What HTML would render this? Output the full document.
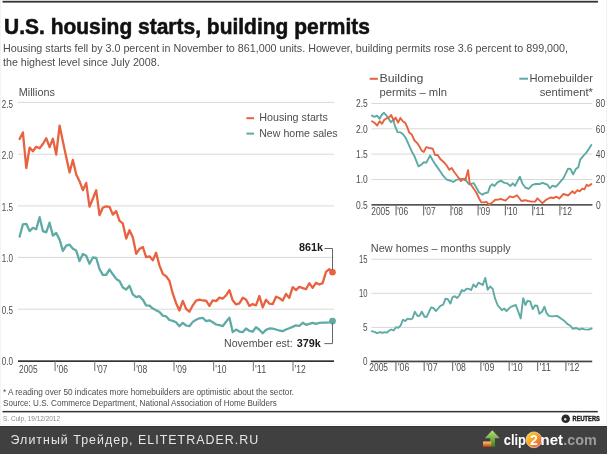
<!DOCTYPE html><html><head><meta charset="utf-8"><style>html,body{margin:0;padding:0;background:#fff;}svg{display:block;will-change:transform;}text{font-family:"Liberation Sans",sans-serif;}</style></head><body>
<svg width="607" height="454" viewBox="0 0 607 454">
<rect x="0" y="0" width="607" height="454" fill="#fff"/>
<rect x="0" y="0" width="1" height="425" fill="#f3f3f3"/>
<rect x="606" y="0" width="1" height="425" fill="#f2f2f2"/>
<rect x="2.5" y="0.8" width="595.5" height="1.8" fill="#333"/>
<text x="4" y="33.6" font-size="22.4" fill="#111" stroke="#111" stroke-width="0.55" font-weight="bold" textLength="366" lengthAdjust="spacingAndGlyphs">U.S. housing starts, building permits</text>
<text x="3.0" y="51.7" font-size="11.30" fill="#4d4d4d" font-weight="normal" text-anchor="start" textLength="565.0" lengthAdjust="spacingAndGlyphs">Housing starts fell by 3.0 percent in November to 861,000 units. However, building permits rose 3.6 percent to 899,000,</text>
<text x="3.0" y="66.1" font-size="11.30" fill="#4d4d4d" font-weight="normal" text-anchor="start" textLength="156.6" lengthAdjust="spacingAndGlyphs">the highest level since July 2008.</text>
<g>
<rect x="18" y="101.9" width="316" height="1" fill="#d9d9d9"/>
<rect x="18" y="153.7" width="316" height="1" fill="#d9d9d9"/>
<rect x="18" y="205.4" width="316" height="1" fill="#d9d9d9"/>
<rect x="18" y="256.9" width="316" height="1" fill="#d9d9d9"/>
<rect x="18" y="308.7" width="316" height="1" fill="#d9d9d9"/>
<text x="18.8" y="95.8" font-size="10.80" fill="#4d4d4d" font-weight="normal" text-anchor="start" textLength="36.0" lengthAdjust="spacingAndGlyphs">Millions</text>
<text x="1.8" y="108.2" font-size="10.60" fill="#4d4d4d" font-weight="normal" text-anchor="start" textLength="11.2" lengthAdjust="spacingAndGlyphs">2.5</text>
<text x="1.8" y="159.2" font-size="10.60" fill="#4d4d4d" font-weight="normal" text-anchor="start" textLength="11.2" lengthAdjust="spacingAndGlyphs">2.0</text>
<text x="1.8" y="211.2" font-size="10.60" fill="#4d4d4d" font-weight="normal" text-anchor="start" textLength="11.2" lengthAdjust="spacingAndGlyphs">1.5</text>
<text x="1.8" y="262.2" font-size="10.60" fill="#4d4d4d" font-weight="normal" text-anchor="start" textLength="11.2" lengthAdjust="spacingAndGlyphs">1.0</text>
<text x="1.8" y="314.2" font-size="10.60" fill="#4d4d4d" font-weight="normal" text-anchor="start" textLength="11.2" lengthAdjust="spacingAndGlyphs">0.5</text>
<text x="1.8" y="365.2" font-size="10.60" fill="#4d4d4d" font-weight="normal" text-anchor="start" textLength="11.2" lengthAdjust="spacingAndGlyphs">0.0</text>
<rect x="18" y="360.3" width="316" height="1.7" fill="#333"/>
<rect x="54.5" y="361.5" width="1.2" height="9.6" fill="#888"/>
<rect x="94.1" y="361.5" width="1.2" height="9.6" fill="#888"/>
<rect x="133.9" y="361.5" width="1.2" height="9.6" fill="#888"/>
<rect x="173.4" y="361.5" width="1.2" height="9.6" fill="#888"/>
<rect x="213.0" y="361.5" width="1.2" height="9.6" fill="#888"/>
<rect x="252.8" y="361.5" width="1.2" height="9.6" fill="#888"/>
<rect x="292.4" y="361.5" width="1.2" height="9.6" fill="#888"/>
<text x="19.0" y="372.7" font-size="10.00" fill="#4d4d4d" font-weight="normal" text-anchor="start" textLength="18.6" lengthAdjust="spacingAndGlyphs">2005</text>
<text x="56.8" y="372.6" font-size="10.20" fill="#4d4d4d" font-weight="normal" text-anchor="start" textLength="11.1" lengthAdjust="spacingAndGlyphs">'06</text>
<text x="96.4" y="372.6" font-size="10.20" fill="#4d4d4d" font-weight="normal" text-anchor="start" textLength="11.1" lengthAdjust="spacingAndGlyphs">'07</text>
<text x="136.2" y="372.6" font-size="10.20" fill="#4d4d4d" font-weight="normal" text-anchor="start" textLength="11.1" lengthAdjust="spacingAndGlyphs">'08</text>
<text x="175.7" y="372.6" font-size="10.20" fill="#4d4d4d" font-weight="normal" text-anchor="start" textLength="11.1" lengthAdjust="spacingAndGlyphs">'09</text>
<text x="215.3" y="372.6" font-size="10.20" fill="#4d4d4d" font-weight="normal" text-anchor="start" textLength="11.1" lengthAdjust="spacingAndGlyphs">'10</text>
<text x="255.1" y="372.6" font-size="10.20" fill="#4d4d4d" font-weight="normal" text-anchor="start" textLength="11.1" lengthAdjust="spacingAndGlyphs">'11</text>
<text x="294.7" y="372.6" font-size="10.20" fill="#4d4d4d" font-weight="normal" text-anchor="start" textLength="11.1" lengthAdjust="spacingAndGlyphs">'12</text>
<polyline points="19.6,139.0 22.9,132.4 26.3,168.0 29.6,147.6 32.9,151.3 36.2,146.8 39.6,148.3 42.9,144.0 46.2,138.2 49.6,147.2 52.9,138.7 56.2,154.5 59.6,125.6 62.9,141.6 66.2,157.1 69.6,172.5 72.9,159.9 76.2,174.4 79.5,181.2 82.9,190.2 86.2,182.9 89.5,206.7 92.9,198.5 96.2,190.3 99.5,215.2 102.8,207.8 106.2,206.3 109.5,206.8 112.8,214.6 116.2,211.1 119.5,220.9 122.8,223.4 126.2,238.6 129.5,230.2 132.8,237.2 136.2,253.8 139.5,248.9 142.8,246.9 146.1,257.1 149.5,256.3 152.8,260.4 156.1,252.8 159.5,265.6 162.8,273.8 166.1,276.3 169.4,280.7 172.8,293.7 176.1,303.2 179.4,310.5 182.8,300.9 186.1,308.9 189.4,311.7 192.8,305.3 196.1,300.6 199.4,299.7 202.8,300.5 206.1,300.6 209.4,305.9 212.7,300.3 216.1,301.1 219.4,297.6 222.7,298.7 226.1,295.3 229.4,290.1 232.7,300.3 236.1,304.4 239.4,303.3 242.7,297.8 246.0,299.5 249.4,305.9 252.7,304.1 256.0,305.4 259.4,296.0 262.7,307.4 266.0,299.8 269.4,303.7 272.7,304.2 276.0,296.7 279.3,298.0 282.7,300.6 286.0,293.9 289.3,297.9 292.7,287.1 296.0,290.1 299.3,286.9 302.7,288.1 306.0,289.2 309.3,283.2 312.6,287.9 316.0,282.8 319.3,284.5 322.6,283.1 326.0,271.8 329.3,269.2 332.6,272.0" fill="none" stroke="#e8623f" stroke-width="2.3" stroke-linejoin="round" stroke-linecap="round"/>
<polyline points="19.6,236.7 22.9,224.4 26.3,223.8 29.6,231.1 32.9,227.8 36.2,229.3 39.6,217.2 42.9,231.1 46.2,232.4 49.6,222.7 52.9,235.7 56.2,233.0 59.6,239.6 62.9,250.9 66.2,245.6 69.6,244.7 72.9,248.7 76.2,250.5 79.5,261.1 82.9,254.0 86.2,255.8 89.5,263.7 92.9,257.5 96.2,258.0 99.5,269.0 102.8,274.9 106.2,274.9 109.5,269.4 112.8,274.3 116.2,278.9 119.5,280.9 122.8,287.5 126.2,289.5 129.5,285.8 132.8,294.4 136.2,297.1 139.5,296.2 142.8,299.7 146.1,305.4 149.5,305.7 152.8,308.6 156.1,310.3 159.5,312.0 162.8,315.6 166.1,316.3 169.4,320.0 172.8,320.9 176.1,322.2 179.4,326.2 182.8,322.9 186.1,325.5 189.4,326.2 192.8,321.9 196.1,319.8 199.4,318.3 202.8,317.8 206.1,321.2 209.4,320.3 212.7,322.2 216.1,324.5 219.4,325.2 222.7,326.2 226.1,321.7 229.4,317.6 232.7,332.1 236.1,329.6 239.4,331.6 242.7,332.2 246.0,328.5 249.4,330.9 252.7,331.7 256.0,327.2 259.4,329.7 262.7,333.2 266.0,329.9 269.4,328.5 272.7,328.7 276.0,329.5 279.3,330.5 282.7,331.2 286.0,329.5 289.3,328.2 292.7,326.9 296.0,325.3 299.3,326.0 302.7,322.8 306.0,324.8 309.3,323.8 312.6,322.8 316.0,323.8 319.3,322.8 322.6,322.6 326.0,322.6 329.3,322.3 332.6,321.3" fill="none" stroke="#5eaaa5" stroke-width="2.3" stroke-linejoin="round" stroke-linecap="round"/>
<rect x="246.4" y="117.2" width="7.6" height="2" fill="#e8623f"/>
<text x="259.2" y="120.5" font-size="11.80" fill="#4d4d4d" font-weight="normal" text-anchor="start" textLength="68.6" lengthAdjust="spacingAndGlyphs">Housing starts</text>
<rect x="246.4" y="132.6" width="7.6" height="2" fill="#5eaaa5"/>
<text x="259.2" y="137.3" font-size="11.80" fill="#4d4d4d" font-weight="normal" text-anchor="start" textLength="78.5" lengthAdjust="spacingAndGlyphs">New home sales</text>
<circle cx="332.5" cy="272.3" r="3.3" fill="#e8623f"/>
<polyline points="324.5,248.5 332.5,248.5 332.5,270" fill="none" stroke="#666" stroke-width="1"/>
<text x="298.9" y="251.1" font-size="11.20" fill="#1a1a1a" font-weight="bold" text-anchor="start" textLength="24.1" lengthAdjust="spacingAndGlyphs">861k</text>
<circle cx="332.5" cy="321.1" r="3.4" fill="#5eaaa5"/>
<polyline points="324.3,343.6 332.5,343.6 332.5,323" fill="none" stroke="#666" stroke-width="1"/>
<text x="224.0" y="346.8" font-size="10.80" fill="#4d4d4d" font-weight="normal" text-anchor="start" textLength="68.7" lengthAdjust="spacingAndGlyphs">November est:</text>
<text x="296.7" y="346.8" font-size="10.80" fill="#1a1a1a" font-weight="bold" text-anchor="start" textLength="24.1" lengthAdjust="spacingAndGlyphs">379k</text>
</g>
<rect x="371.4" y="103.0" width="221" height="1" fill="#d9d9d9"/>
<rect x="371.4" y="128.3" width="221" height="1" fill="#d9d9d9"/>
<rect x="371.4" y="153.6" width="221" height="1" fill="#d9d9d9"/>
<rect x="371.4" y="179.0" width="221" height="1" fill="#d9d9d9"/>
<text x="356.0" y="107.3" font-size="10.00" fill="#4d4d4d" font-weight="normal" text-anchor="start" textLength="11.8" lengthAdjust="spacingAndGlyphs">2.5</text>
<text x="356.0" y="132.6" font-size="10.00" fill="#4d4d4d" font-weight="normal" text-anchor="start" textLength="11.8" lengthAdjust="spacingAndGlyphs">2.0</text>
<text x="356.0" y="157.9" font-size="10.00" fill="#4d4d4d" font-weight="normal" text-anchor="start" textLength="11.8" lengthAdjust="spacingAndGlyphs">1.5</text>
<text x="356.0" y="183.3" font-size="10.00" fill="#4d4d4d" font-weight="normal" text-anchor="start" textLength="11.8" lengthAdjust="spacingAndGlyphs">1.0</text>
<text x="356.0" y="208.6" font-size="10.00" fill="#4d4d4d" font-weight="normal" text-anchor="start" textLength="11.8" lengthAdjust="spacingAndGlyphs">0.5</text>
<text x="595.8" y="107.3" font-size="10.00" fill="#4d4d4d" font-weight="normal" text-anchor="start" textLength="9.3" lengthAdjust="spacingAndGlyphs">80</text>
<text x="595.8" y="132.6" font-size="10.00" fill="#4d4d4d" font-weight="normal" text-anchor="start" textLength="9.3" lengthAdjust="spacingAndGlyphs">60</text>
<text x="595.8" y="157.9" font-size="10.00" fill="#4d4d4d" font-weight="normal" text-anchor="start" textLength="9.3" lengthAdjust="spacingAndGlyphs">40</text>
<text x="595.8" y="183.3" font-size="10.00" fill="#4d4d4d" font-weight="normal" text-anchor="start" textLength="9.3" lengthAdjust="spacingAndGlyphs">20</text>
<text x="596.0" y="208.6" font-size="10.00" fill="#4d4d4d" font-weight="normal" text-anchor="start" textLength="4.7" lengthAdjust="spacingAndGlyphs">0</text>
<rect x="371.4" y="204.0" width="221" height="1.7" fill="#555"/>
<rect x="395.5" y="205" width="1.2" height="10.4" fill="#777"/>
<rect x="423.0" y="205" width="1.2" height="10.4" fill="#777"/>
<rect x="450.4" y="205" width="1.2" height="10.4" fill="#777"/>
<rect x="477.5" y="205" width="1.2" height="10.4" fill="#777"/>
<rect x="504.8" y="205" width="1.2" height="10.4" fill="#777"/>
<rect x="532.1" y="205" width="1.2" height="10.4" fill="#777"/>
<rect x="559.3" y="205" width="1.2" height="10.4" fill="#777"/>
<text x="371.3" y="214.5" font-size="10.00" fill="#4d4d4d" font-weight="normal" text-anchor="start" textLength="18.6" lengthAdjust="spacingAndGlyphs">2005</text>
<text x="397.2" y="214.5" font-size="10.00" fill="#4d4d4d" font-weight="normal" text-anchor="start" textLength="10.9" lengthAdjust="spacingAndGlyphs">'06</text>
<text x="424.7" y="214.5" font-size="10.00" fill="#4d4d4d" font-weight="normal" text-anchor="start" textLength="10.9" lengthAdjust="spacingAndGlyphs">'07</text>
<text x="452.1" y="214.5" font-size="10.00" fill="#4d4d4d" font-weight="normal" text-anchor="start" textLength="10.9" lengthAdjust="spacingAndGlyphs">'08</text>
<text x="479.2" y="214.5" font-size="10.00" fill="#4d4d4d" font-weight="normal" text-anchor="start" textLength="10.9" lengthAdjust="spacingAndGlyphs">'09</text>
<text x="506.5" y="214.5" font-size="10.00" fill="#4d4d4d" font-weight="normal" text-anchor="start" textLength="10.9" lengthAdjust="spacingAndGlyphs">'10</text>
<text x="533.8" y="214.5" font-size="10.00" fill="#4d4d4d" font-weight="normal" text-anchor="start" textLength="10.9" lengthAdjust="spacingAndGlyphs">'11</text>
<text x="561.0" y="214.5" font-size="10.00" fill="#4d4d4d" font-weight="normal" text-anchor="start" textLength="10.9" lengthAdjust="spacingAndGlyphs">'12</text>
<polyline points="372.0,115.6 374.4,116.8 377.1,115.6 379.7,118.8 381.8,114.8 384.0,112.8 386.3,115.3 388.6,118.8 390.9,122.2 393.2,119.8 395.2,126.7 397.6,132.1 400.6,132.4 402.8,134.1 405.5,137.5 408.6,144.4 411.9,151.7 414.5,156.3 418.5,166.3 421.1,164.9 423.8,162.3 426.4,162.6 430.1,155.4 433.0,160.7 435.7,164.9 439.0,169.6 442.3,174.6 446.5,179.5 451.0,180.9 453.2,182.0 456.5,179.8 460.4,178.7 463.7,179.6 466.4,180.9 469.2,184.4 473.6,183.1 476.3,187.5 479.1,192.5 482.4,194.7 485.1,193.2 487.9,192.5 490.1,186.4 492.3,184.2 494.5,185.9 497.2,182.6 500.8,180.6 504.4,182.9 507.1,183.3 510.4,185.9 512.8,183.3 515.0,185.9 519.8,176.7 522.5,183.7 525.3,187.5 528.6,188.8 532.4,184.8 535.7,184.0 539.6,184.0 542.6,182.9 545.6,184.0 547.3,184.6 549.8,188.3 552.2,185.8 556.1,186.7 558.1,184.4 563.5,178.2 568.1,168.6 570.5,169.0 573.1,174.4 575.9,169.0 578.2,167.4 580.2,159.7 583.3,155.8 585.9,153.2 587.9,150.4 591.3,145.0" fill="none" stroke="#5eaaa5" stroke-width="1.9" stroke-linejoin="round" stroke-linecap="round"/>
<polyline points="372.0,121.2 374.4,122.7 377.1,125.5 379.7,121.2 382.0,123.9 384.3,119.8 386.8,118.3 389.0,117.3 391.2,115.0 393.5,120.3 395.7,117.6 398.1,122.7 400.4,118.0 402.8,121.2 405.3,122.9 407.0,126.7 409.3,132.6 411.9,134.8 414.5,140.5 417.2,143.1 419.8,147.1 421.8,150.7 423.8,152.0 426.2,147.1 429.3,148.0 432.8,148.8 435.0,155.0 437.7,155.0 440.3,159.0 443.6,162.0 446.3,164.9 449.3,169.8 451.7,168.0 454.4,172.2 457.8,176.8 460.9,181.1 463.3,178.7 465.5,179.6 468.1,170.1 469.7,183.1 472.5,187.0 476.3,192.5 479.1,198.5 481.3,202.4 484.0,202.4 486.2,201.8 489.3,204.6 492.3,202.4 495.3,199.8 498.4,199.6 500.5,198.8 505.5,200.7 509.9,196.3 513.2,197.4 517.0,195.2 521.4,201.0 525.3,200.2 528.0,201.0 531.9,201.6 535.2,201.6 537.4,198.3 542.3,203.2 545.6,200.2 550.4,197.5 553.5,198.0 556.6,196.7 559.2,198.6 563.5,194.0 568.1,195.5 572.5,191.3 574.6,193.3 577.4,190.2 579.7,191.3 582.3,188.7 584.4,189.3 586.7,184.7 588.5,186.0 591.3,184.1" fill="none" stroke="#e8623f" stroke-width="1.9" stroke-linejoin="round" stroke-linecap="round"/>
<rect x="369.7" y="77.8" width="8.1" height="2" fill="#e8623f"/>
<text x="379.5" y="82.3" font-size="11.80" fill="#4d4d4d" font-weight="normal" text-anchor="start" textLength="44.0" lengthAdjust="spacingAndGlyphs">Building</text>
<text x="379.5" y="95.5" font-size="11.80" fill="#4d4d4d" font-weight="normal" text-anchor="start" textLength="67.5" lengthAdjust="spacingAndGlyphs">permits – mln</text>
<rect x="519.3" y="77.7" width="8.7" height="2" fill="#5eaaa5"/>
<text x="593.0" y="82.3" font-size="11.80" fill="#4d4d4d" font-weight="normal" text-anchor="end" textLength="63.5" lengthAdjust="spacingAndGlyphs">Homebuilder</text>
<text x="593.0" y="96.0" font-size="11.80" fill="#4d4d4d" font-weight="normal" text-anchor="end" textLength="53.3" lengthAdjust="spacingAndGlyphs">sentiment*</text>
<text x="370.8" y="252.1" font-size="11.80" fill="#4d4d4d" font-weight="normal" text-anchor="start" textLength="140.0" lengthAdjust="spacingAndGlyphs">New homes – months supply</text>
<rect x="371.4" y="258.7" width="221" height="1" fill="#d9d9d9"/>
<rect x="371.4" y="292.8" width="221" height="1" fill="#d9d9d9"/>
<rect x="371.4" y="326.9" width="221" height="1" fill="#d9d9d9"/>
<text x="359.0" y="263.0" font-size="10.00" fill="#4d4d4d" font-weight="normal" text-anchor="start" textLength="8.5" lengthAdjust="spacingAndGlyphs">15</text>
<text x="359.0" y="297.1" font-size="10.00" fill="#4d4d4d" font-weight="normal" text-anchor="start" textLength="8.5" lengthAdjust="spacingAndGlyphs">10</text>
<text x="363.1" y="331.2" font-size="10.00" fill="#4d4d4d" font-weight="normal" text-anchor="start" textLength="4.5" lengthAdjust="spacingAndGlyphs">5</text>
<text x="363.1" y="365.2" font-size="10.00" fill="#4d4d4d" font-weight="normal" text-anchor="start" textLength="4.5" lengthAdjust="spacingAndGlyphs">0</text>
<rect x="370.8" y="360.6" width="221.4" height="1.7" fill="#444"/>
<rect x="395.3" y="361.6" width="1.2" height="9.4" fill="#777"/>
<rect x="423.6" y="361.6" width="1.2" height="9.4" fill="#777"/>
<rect x="452.0" y="361.6" width="1.2" height="9.4" fill="#777"/>
<rect x="480.3" y="361.6" width="1.2" height="9.4" fill="#777"/>
<rect x="508.6" y="361.6" width="1.2" height="9.4" fill="#777"/>
<rect x="537.0" y="361.6" width="1.2" height="9.4" fill="#777"/>
<rect x="565.3" y="361.6" width="1.2" height="9.4" fill="#777"/>
<text x="369.3" y="370.7" font-size="10.00" fill="#4d4d4d" font-weight="normal" text-anchor="start" textLength="18.7" lengthAdjust="spacingAndGlyphs">2005</text>
<text x="397.9" y="370.7" font-size="10.00" fill="#4d4d4d" font-weight="normal" text-anchor="start" textLength="11.4" lengthAdjust="spacingAndGlyphs">'06</text>
<text x="426.2" y="370.7" font-size="10.00" fill="#4d4d4d" font-weight="normal" text-anchor="start" textLength="11.4" lengthAdjust="spacingAndGlyphs">'07</text>
<text x="454.6" y="370.7" font-size="10.00" fill="#4d4d4d" font-weight="normal" text-anchor="start" textLength="11.4" lengthAdjust="spacingAndGlyphs">'08</text>
<text x="482.9" y="370.7" font-size="10.00" fill="#4d4d4d" font-weight="normal" text-anchor="start" textLength="11.4" lengthAdjust="spacingAndGlyphs">'09</text>
<text x="511.2" y="370.7" font-size="10.00" fill="#4d4d4d" font-weight="normal" text-anchor="start" textLength="11.4" lengthAdjust="spacingAndGlyphs">'10</text>
<text x="539.6" y="370.7" font-size="10.00" fill="#4d4d4d" font-weight="normal" text-anchor="start" textLength="11.4" lengthAdjust="spacingAndGlyphs">'11</text>
<text x="567.9" y="370.7" font-size="10.00" fill="#4d4d4d" font-weight="normal" text-anchor="start" textLength="11.4" lengthAdjust="spacingAndGlyphs">'12</text>
<polyline points="371.8,331.2 374.4,331.9 377.1,333.2 379.9,332.2 382.4,332.7 384.9,332.2 386.8,332.7 388.8,330.9 391.3,329.5 393.6,330.5 396.0,327.2 398.3,327.9 400.7,325.3 402.9,319.8 405.2,321.0 407.7,318.6 410.2,319.3 412.6,318.3 414.8,311.7 417.6,316.0 419.6,315.8 421.8,311.7 424.5,316.8 426.7,316.8 431.1,307.4 433.3,308.0 436.0,311.0 440.4,305.8 443.2,304.7 445.4,298.8 447.9,299.2 450.3,303.6 452.5,297.3 454.7,296.2 457.1,298.1 459.3,295.5 461.9,290.0 464.1,291.1 466.6,288.7 468.8,288.9 471.2,290.0 473.4,284.5 475.9,287.1 478.4,282.7 480.6,283.8 482.8,284.9 485.3,277.9 487.7,289.8 490.1,286.5 492.7,288.9 494.9,298.1 497.6,305.0 501.8,310.2 504.2,308.5 506.4,311.0 510.8,306.9 515.8,305.0 520.7,318.4 523.2,298.1 525.4,305.0 527.6,300.8 530.1,301.4 532.8,309.1 535.0,305.5 537.2,305.7 539.4,313.7 542.2,311.5 544.4,306.7 546.6,313.1 548.8,315.9 552.1,316.4 557.0,315.9 560.9,318.4 564.2,320.8 567.5,324.1 570.2,325.5 572.7,328.8 576.3,328.0 579.6,329.6 581.8,328.5 584.5,329.4 588.4,329.6 591.7,328.5" fill="none" stroke="#5eaaa5" stroke-width="1.9" stroke-linejoin="round" stroke-linecap="round"/>
<text x="3.0" y="394.8" font-size="9.60" fill="#4d4d4d" font-weight="normal" text-anchor="start" textLength="291.0" lengthAdjust="spacingAndGlyphs">* A reading over 50 indicates more homebuilders are optimistic about the sector.</text>
<text x="3.0" y="405.8" font-size="9.60" fill="#4d4d4d" font-weight="normal" text-anchor="start" textLength="273.7" lengthAdjust="spacingAndGlyphs">Source: U.S. Commerce Department, National Association of Home Builders</text>
<rect x="2.5" y="410.9" width="595.3" height="1.5" fill="#333"/>
<text x="3.0" y="420.8" font-size="6.80" fill="#8a8a8a" font-weight="normal" text-anchor="start" textLength="57.0" lengthAdjust="spacingAndGlyphs">S. Culp, 19/12/2012</text>
<circle cx="565.7" cy="418.8" r="4.3" fill="#2a2a2a"/>
<circle cx="565.2" cy="419.3" r="1.2" fill="#ddd"/>
<text x="572.6" y="420.9" font-size="6.6" fill="#1a1a1a" font-weight="bold" stroke="#1a1a1a" stroke-width="0.35" textLength="27.2" lengthAdjust="spacingAndGlyphs">REUTERS</text>
<rect x="0" y="424" width="607" height="1" fill="#f6f6f6"/>
<rect x="0" y="426" width="607" height="28" fill="#404040"/>
<rect x="0" y="426" width="607" height="1" fill="#333"/>
<text x="10.6" y="443.9" font-size="12.4" fill="#e6e6e6" textLength="247.5" lengthAdjust="spacing">Элитный Трейдер, ELITETRADER.RU</text>
<defs><linearGradient id="ga" x1="0" y1="0" x2="0" y2="1"><stop offset="0" stop-color="#b5e27a"/><stop offset="1" stop-color="#3f7f1a"/></linearGradient><linearGradient id="gb" x1="0" y1="0" x2="0" y2="1"><stop offset="0" stop-color="#f7d35a"/><stop offset="1" stop-color="#d5381f"/></linearGradient><linearGradient id="gc" x1="0" y1="0" x2="1" y2="1"><stop offset="0" stop-color="#ffe12a"/><stop offset="0.55" stop-color="#f7931e"/><stop offset="1" stop-color="#e8456a"/></linearGradient></defs>
<polygon points="492.3,430.2 499.8,438.2 495,438.2 495,446.8 490.2,446.8 490.2,438.2 484.8,438.2" fill="url(#ga)"/>
<rect x="483" y="441.5" width="8.2" height="5.3" fill="url(#gb)"/>
<text x="503.8" y="444.7" font-size="15.20" fill="#ffffff" font-weight="bold" text-anchor="start" textLength="22.2" lengthAdjust="spacingAndGlyphs">clip</text>
<circle cx="533.9" cy="439.8" r="7.9" fill="url(#gc)" stroke="#f4f4f4" stroke-width="0.6"/>
<text x="533.9" y="445.0" font-size="14.00" fill="#ffffff" font-weight="bold" text-anchor="middle">2</text>
<text x="540.5" y="444.7" font-size="15.20" fill="#ffffff" font-weight="bold" text-anchor="start" textLength="22.5" lengthAdjust="spacingAndGlyphs">net</text>
<text x="563.2" y="444.7" font-size="15.20" fill="#9b9b9b" font-weight="bold" text-anchor="start" textLength="33.5" lengthAdjust="spacingAndGlyphs">.com</text>
</svg></body></html>
